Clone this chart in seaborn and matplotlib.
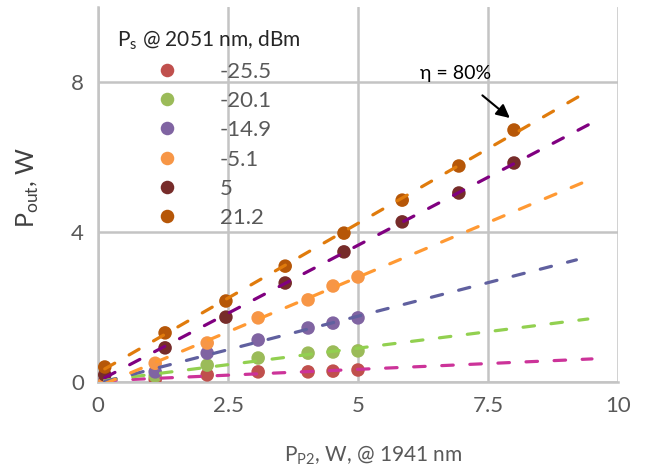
import seaborn as sns
import matplotlib.pyplot as plt
import numpy as np
import pandas as pd

# signal power levels (dBm) and measured output power
levels = ["-25.5", "-20.1", "-14.9", "-5.1", "5", "21.2"]
x_low = [0.13, 1.1, 2.1, 3.08, 4.04, 4.52, 5.0]
x_high = [0.13, 1.29, 2.46, 3.6, 4.73, 5.85, 6.94, 8.0]
p_m25 = [0.02, 0.07, 0.19, 0.27, 0.27, 0.29, 0.32]
p_m20 = [0.02, 0.16, 0.45, 0.64, 0.77, 0.80, 0.83]
p_m15 = [0.03, 0.27, 0.77, 1.12, 1.44, 1.57, 1.71]
p_m5 = [0.0, 0.50, 1.04, 1.71, 2.19, 2.56, 2.80]
p_5 = [0.19, 0.91, 1.73, 2.64, 3.47, 4.27, 5.04, 5.84]
p_21 = [0.40, 1.31, 2.16, 3.09, 3.97, 4.85, 5.76, 6.72]
trend_end = [9.5, 9.42, 9.2, 9.33, 9.48, 9.3]

xs = [x_low, x_low, x_low, x_low, x_high, x_high]
ys = [p_m25, p_m20, p_m15, p_m5, p_5, p_21]

marker_colors = ["#C0504D", "#9BBB59", "#8064A2", "#F79646", "#772C2A", "#B65708"]
line_colors = ["#CC3399", "#92D050", "#60609F", "#FF9933", "#800080", "#E07B0C"]

frame = pd.concat([pd.DataFrame({"pump": x, "pout": y, "level": lv})
                   for x, y, lv in zip(xs, ys, levels)], ignore_index=True)

sns.set_style("white")
plt.rcParams['font.family'] = ['Lato', 'DejaVu Sans']

fig = plt.figure(figsize=(6.46, 4.70), dpi=100)
ax = fig.add_axes([98/646, 1 - 382/470, 520/646, 375/470])

sns.scatterplot(data=frame, x="pump", y="pout", hue="level", hue_order=levels,
                palette=dict(zip(levels, marker_colors)), s=95, linewidth=0,
                ax=ax, zorder=3)

# linear trendlines
for x, y, end, c in zip(xs, ys, trend_end, line_colors):
    k, b = np.polyfit(x, y, 1)
    xx = np.array([x[0], end])
    ax.plot(xx, k * xx + b, color=c, lw=2.3, dashes=(3.6, 5.2),
            dash_capstyle="round", zorder=4)

ax.set_xlim(0, 10)
ax.set_ylim(0, 10)
ax.set_xticks([0, 2.5, 5, 7.5, 10])
ax.set_xticklabels(["0", "2.5", "5", "7.5", "10"])
ax.set_yticks([0, 4, 8])
ax.grid(True, color="#C4C4C4", lw=1.8, zorder=0)
ax.set_axisbelow(True)
for s in ["top", "right"]:
    ax.spines[s].set_visible(False)
for s in ["left", "bottom"]:
    ax.spines[s].set_color("#C4C4C4")
    ax.spines[s].set_linewidth(1.8)
ax.tick_params(axis="both", length=0, labelsize=16, colors="#595959", pad=10)

ax.set_xlabel(r"P$_{\mathregular{P2}}$, W, @ 1941 nm", fontsize=15, color="#595959")
ax.set_ylabel(r"P$_{\mathregular{out}}$, W", fontsize=18, color="#404040")
ax.xaxis.set_label_coords(0.53, -0.163)
ax.yaxis.set_label_coords(-0.11, 0.52)

leg = ax.legend(title=r"P$_{\mathregular{s}}$ @ 2051 nm, dBm", loc="upper left",
                bbox_to_anchor=(0.01, 0.978), frameon=False, fontsize=16,
                title_fontsize=15, labelspacing=0.42, handletextpad=1.4,
                handlelength=2.0, borderpad=0.1)
for t in leg.get_texts():
    t.set_color("#595959")
leg.get_title().set_color("#262626")

ax.annotate("η = 80%", xy=(7.92, 7.04), xytext=(6.87, 8.24),
            fontsize=14, ha="center", va="center", color="black",
            arrowprops=dict(arrowstyle="-|>", color="black", lw=1.5,
                            mutation_scale=20, shrinkA=12, shrinkB=0))

fig.savefig("out.png", dpi=100)
